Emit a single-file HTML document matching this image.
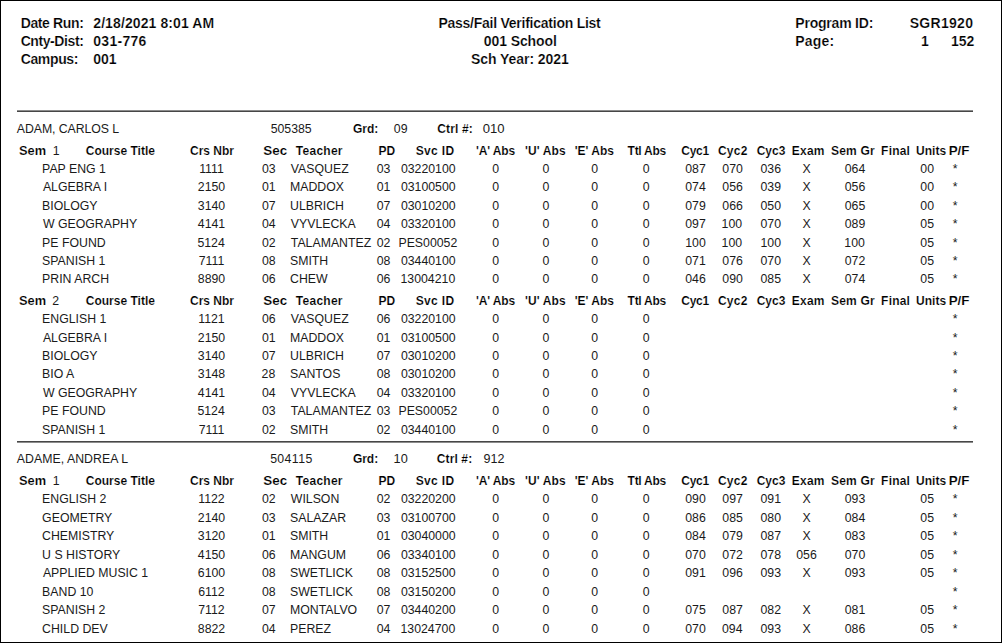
<!DOCTYPE html><html><head><meta charset="utf-8"><title>Pass/Fail Verification List</title><style>
html,body{margin:0;padding:0;background:#fff;}
body{width:1002px;height:643px;position:relative;overflow:hidden;}
#frame{position:absolute;left:0;top:0;width:1000px;height:641px;border:1px solid #000;}
.t{position:absolute;white-space:pre;}
.h{font:bold 14px/16px 'Liberation Sans', sans-serif;color:#000;-webkit-text-stroke:0.2px #fff;}
.b{font:bold 12px/14px 'Liberation Sans', sans-serif;color:#000;-webkit-text-stroke:0.15px #fff;}
.r{font:12.3px/14px 'Liberation Sans', sans-serif;color:#1a1a1a;}
.c{text-align:center;width:300px;}
.ln{position:absolute;background:#404040;}
</style></head><body><div id="frame"></div>
<div class="ln" style="left:17px;top:110px;width:956px;height:1px;background:#8c8c8c"></div>
<div class="ln" style="left:17px;top:111px;width:956px;height:1px;background:#474747"></div>
<div class="ln" style="left:17px;top:441px;width:956px;height:1px;background:#474747"></div>
<div class="ln" style="left:17px;top:442px;width:956px;height:1px;background:#8c8c8c"></div>
<div class="t h" style="left:20.68px;top:15.00px;letter-spacing:-0.370px">Date Run:</div>
<div class="t h" style="left:93.24px;top:15.00px;letter-spacing:0.105px">2/18/2021 8:01 AM</div>
<div class="t h" style="left:20.68px;top:33.00px;letter-spacing:-0.418px">Cnty-Dist:</div>
<div class="t h" style="left:93.24px;top:33.00px;letter-spacing:0.293px">031-776</div>
<div class="t h" style="left:20.68px;top:51.00px;letter-spacing:-0.360px">Campus:</div>
<div class="t h" style="left:93.24px;top:51.00px;font-size:14.02px">001</div>
<div class="t c h" style="left:369.48px;top:15.00px;letter-spacing:-0.249px">Pass/Fail Verification List</div>
<div class="t c h" style="left:370.28px;top:33.00px;letter-spacing:-0.107px">001 School</div>
<div class="t c h" style="left:369.88px;top:51.00px;letter-spacing:-0.049px">Sch Year: 2021</div>
<div class="t h" style="left:795.34px;top:15.00px;letter-spacing:-0.216px">Program ID:</div>
<div class="t h" style="left:909.68px;top:15.00px;letter-spacing:0.293px">SGR1920</div>
<div class="t h" style="left:795.34px;top:33.00px;letter-spacing:0.160px">Page:</div>
<div class="t h" style="left:921.12px;top:33.00px">1</div>
<div class="t h" style="left:951.00px;top:33.00px;font-size:14.01px">152</div>
<div class="t r" style="left:16.80px;top:122.00px;letter-spacing:-0.062px">ADAM, CARLOS L</div>
<div class="t r" style="left:270.68px;top:122.00px">505385</div>
<div class="t b" style="left:352.90px;top:122.00px">Grd:</div>
<div class="t r" style="left:393.80px;top:122.00px;font-size:12.33px">09</div>
<div class="t b" style="left:437.24px;top:122.00px;letter-spacing:0.133px">Ctrl #:</div>
<div class="t r" style="left:482.78px;top:122.00px;font-size:13.09px">010</div>
<div class="t b" style="left:19.00px;top:144.00px;font-size:12.81px">Sem</div>
<div class="t r" style="left:52.66px;top:144.00px">1</div>
<div class="t b" style="left:85.80px;top:144.00px">Course Title</div>
<div class="t b" style="left:190.02px;top:144.00px">Crs Nbr</div>
<div class="t b" style="left:263.34px;top:144.00px;font-size:13.41px">Sec</div>
<div class="t b" style="left:295.80px;top:144.00px;letter-spacing:0.267px">Teacher</div>
<div class="t b" style="left:378.62px;top:144.00px">PD</div>
<div class="t b" style="left:415.78px;top:144.00px;letter-spacing:0.320px">Svc ID</div>
<div class="t b" style="left:476.00px;top:144.00px;letter-spacing:-0.133px">&#x27;A&#x27; Abs</div>
<div class="t b" style="left:524.90px;top:144.00px;letter-spacing:0.133px">&#x27;U&#x27; Abs</div>
<div class="t b" style="left:574.68px;top:144.00px">&#x27;E&#x27; Abs</div>
<div class="t b" style="left:627.58px;top:144.00px;letter-spacing:-0.267px">Ttl Abs</div>
<div class="t b" style="left:681.24px;top:144.00px;letter-spacing:-0.267px">Cyc1</div>
<div class="t b" style="left:717.90px;top:144.00px;letter-spacing:0.267px">Cyc2</div>
<div class="t b" style="left:756.68px;top:144.00px">Cyc3</div>
<div class="t b" style="left:791.68px;top:144.00px;letter-spacing:0.267px">Exam</div>
<div class="t b" style="left:831.12px;top:144.00px;letter-spacing:0.160px">Sem Gr</div>
<div class="t b" style="left:881.12px;top:144.00px;letter-spacing:0.200px">Final</div>
<div class="t b" style="left:916.12px;top:144.00px">Units</div>
<div class="t b" style="left:948.66px;top:144.00px;font-size:13.38px">P/F</div>
<div class="t r" style="left:42.12px;top:162.00px">PAP ENG 1</div>
<div class="t c r" style="left:61.50px;top:162.00px">1111</div>
<div class="t c r" style="left:118.84px;top:162.00px">03</div>
<div class="t r" style="left:290.80px;top:162.00px">VASQUEZ</div>
<div class="t c r" style="left:233.50px;top:162.00px">03</div>
<div class="t c r" style="left:278.28px;top:162.00px">03220100</div>
<div class="t c r" style="left:345.68px;top:162.00px">0</div>
<div class="t c r" style="left:395.90px;top:162.00px">0</div>
<div class="t c r" style="left:444.56px;top:162.00px">0</div>
<div class="t c r" style="left:496.12px;top:162.00px">0</div>
<div class="t c r" style="left:545.50px;top:162.00px">087</div>
<div class="t c r" style="left:582.62px;top:162.00px">070</div>
<div class="t c r" style="left:620.72px;top:162.00px">036</div>
<div class="t c r" style="left:656.50px;top:162.00px">X</div>
<div class="t c r" style="left:705.00px;top:162.00px">064</div>
<div class="t c r" style="left:777.16px;top:162.00px">00</div>
<div class="t c r" style="left:805.22px;top:162.00px">*</div>
<div class="t r" style="left:42.92px;top:180.00px">ALGEBRA I</div>
<div class="t c r" style="left:61.50px;top:180.00px">2150</div>
<div class="t c r" style="left:118.84px;top:180.00px">01</div>
<div class="t r" style="left:290.00px;top:180.00px">MADDOX</div>
<div class="t c r" style="left:233.50px;top:180.00px">01</div>
<div class="t c r" style="left:278.28px;top:180.00px">03100500</div>
<div class="t c r" style="left:345.68px;top:180.00px">0</div>
<div class="t c r" style="left:395.90px;top:180.00px">0</div>
<div class="t c r" style="left:444.56px;top:180.00px">0</div>
<div class="t c r" style="left:496.12px;top:180.00px">0</div>
<div class="t c r" style="left:545.50px;top:180.00px">074</div>
<div class="t c r" style="left:582.62px;top:180.00px">056</div>
<div class="t c r" style="left:620.72px;top:180.00px">039</div>
<div class="t c r" style="left:656.50px;top:180.00px">X</div>
<div class="t c r" style="left:705.00px;top:180.00px">056</div>
<div class="t c r" style="left:777.16px;top:180.00px">00</div>
<div class="t c r" style="left:805.22px;top:180.00px">*</div>
<div class="t r" style="left:42.12px;top:199.00px">BIOLOGY</div>
<div class="t c r" style="left:61.50px;top:199.00px">3140</div>
<div class="t c r" style="left:118.84px;top:199.00px">07</div>
<div class="t r" style="left:290.00px;top:199.00px">ULBRICH</div>
<div class="t c r" style="left:233.50px;top:199.00px">07</div>
<div class="t c r" style="left:278.28px;top:199.00px">03010200</div>
<div class="t c r" style="left:345.68px;top:199.00px">0</div>
<div class="t c r" style="left:395.90px;top:199.00px">0</div>
<div class="t c r" style="left:444.56px;top:199.00px">0</div>
<div class="t c r" style="left:496.12px;top:199.00px">0</div>
<div class="t c r" style="left:545.50px;top:199.00px">079</div>
<div class="t c r" style="left:582.62px;top:199.00px">066</div>
<div class="t c r" style="left:620.72px;top:199.00px">050</div>
<div class="t c r" style="left:656.50px;top:199.00px">X</div>
<div class="t c r" style="left:705.00px;top:199.00px">065</div>
<div class="t c r" style="left:777.16px;top:199.00px">00</div>
<div class="t c r" style="left:805.22px;top:199.00px">*</div>
<div class="t r" style="left:42.92px;top:217.00px">W GEOGRAPHY</div>
<div class="t c r" style="left:61.50px;top:217.00px">4141</div>
<div class="t c r" style="left:118.84px;top:217.00px">04</div>
<div class="t r" style="left:290.80px;top:217.00px">VYVLECKA</div>
<div class="t c r" style="left:233.50px;top:217.00px">04</div>
<div class="t c r" style="left:278.28px;top:217.00px">03320100</div>
<div class="t c r" style="left:345.68px;top:217.00px">0</div>
<div class="t c r" style="left:395.90px;top:217.00px">0</div>
<div class="t c r" style="left:444.56px;top:217.00px">0</div>
<div class="t c r" style="left:496.12px;top:217.00px">0</div>
<div class="t c r" style="left:545.50px;top:217.00px">097</div>
<div class="t c r" style="left:581.82px;top:217.00px">100</div>
<div class="t c r" style="left:620.72px;top:217.00px">070</div>
<div class="t c r" style="left:656.50px;top:217.00px">X</div>
<div class="t c r" style="left:705.00px;top:217.00px">089</div>
<div class="t c r" style="left:777.16px;top:217.00px">05</div>
<div class="t c r" style="left:805.22px;top:217.00px">*</div>
<div class="t r" style="left:42.12px;top:236.00px">PE FOUND</div>
<div class="t c r" style="left:61.10px;top:236.00px">5124</div>
<div class="t c r" style="left:118.84px;top:236.00px">02</div>
<div class="t r" style="left:290.80px;top:236.00px">TALAMANTEZ</div>
<div class="t c r" style="left:233.50px;top:236.00px">02</div>
<div class="t c r" style="left:277.88px;top:236.00px">PES00052</div>
<div class="t c r" style="left:345.68px;top:236.00px">0</div>
<div class="t c r" style="left:395.90px;top:236.00px">0</div>
<div class="t c r" style="left:444.56px;top:236.00px">0</div>
<div class="t c r" style="left:496.12px;top:236.00px">0</div>
<div class="t c r" style="left:545.50px;top:236.00px">100</div>
<div class="t c r" style="left:581.82px;top:236.00px">100</div>
<div class="t c r" style="left:620.72px;top:236.00px">100</div>
<div class="t c r" style="left:656.50px;top:236.00px">X</div>
<div class="t c r" style="left:704.60px;top:236.00px">100</div>
<div class="t c r" style="left:777.16px;top:236.00px">05</div>
<div class="t c r" style="left:805.22px;top:236.00px">*</div>
<div class="t r" style="left:42.12px;top:254.00px">SPANISH 1</div>
<div class="t c r" style="left:61.50px;top:254.00px">7111</div>
<div class="t c r" style="left:118.84px;top:254.00px">08</div>
<div class="t r" style="left:290.00px;top:254.00px">SMITH</div>
<div class="t c r" style="left:233.50px;top:254.00px">08</div>
<div class="t c r" style="left:278.28px;top:254.00px">03440100</div>
<div class="t c r" style="left:345.68px;top:254.00px">0</div>
<div class="t c r" style="left:395.90px;top:254.00px">0</div>
<div class="t c r" style="left:444.56px;top:254.00px">0</div>
<div class="t c r" style="left:496.12px;top:254.00px">0</div>
<div class="t c r" style="left:545.50px;top:254.00px">071</div>
<div class="t c r" style="left:582.62px;top:254.00px">076</div>
<div class="t c r" style="left:620.72px;top:254.00px">070</div>
<div class="t c r" style="left:656.50px;top:254.00px">X</div>
<div class="t c r" style="left:705.00px;top:254.00px">072</div>
<div class="t c r" style="left:777.16px;top:254.00px">05</div>
<div class="t c r" style="left:805.22px;top:254.00px">*</div>
<div class="t r" style="left:42.12px;top:272.00px">PRIN ARCH</div>
<div class="t c r" style="left:61.50px;top:272.00px">8890</div>
<div class="t c r" style="left:118.84px;top:272.00px">06</div>
<div class="t r" style="left:290.00px;top:272.00px">CHEW</div>
<div class="t c r" style="left:233.50px;top:272.00px">06</div>
<div class="t c r" style="left:277.88px;top:272.00px">13004210</div>
<div class="t c r" style="left:345.68px;top:272.00px">0</div>
<div class="t c r" style="left:395.90px;top:272.00px">0</div>
<div class="t c r" style="left:444.56px;top:272.00px">0</div>
<div class="t c r" style="left:496.12px;top:272.00px">0</div>
<div class="t c r" style="left:545.50px;top:272.00px">046</div>
<div class="t c r" style="left:582.62px;top:272.00px">090</div>
<div class="t c r" style="left:620.72px;top:272.00px">085</div>
<div class="t c r" style="left:656.50px;top:272.00px">X</div>
<div class="t c r" style="left:705.00px;top:272.00px">074</div>
<div class="t c r" style="left:777.16px;top:272.00px">05</div>
<div class="t c r" style="left:805.22px;top:272.00px">*</div>
<div class="t b" style="left:19.00px;top:294.00px;font-size:12.81px">Sem</div>
<div class="t r" style="left:52.16px;top:294.00px">2</div>
<div class="t b" style="left:85.80px;top:294.00px">Course Title</div>
<div class="t b" style="left:190.02px;top:294.00px">Crs Nbr</div>
<div class="t b" style="left:263.34px;top:294.00px;font-size:13.41px">Sec</div>
<div class="t b" style="left:295.80px;top:294.00px;letter-spacing:0.267px">Teacher</div>
<div class="t b" style="left:378.62px;top:294.00px">PD</div>
<div class="t b" style="left:415.78px;top:294.00px;letter-spacing:0.320px">Svc ID</div>
<div class="t b" style="left:476.00px;top:294.00px;letter-spacing:-0.133px">&#x27;A&#x27; Abs</div>
<div class="t b" style="left:524.90px;top:294.00px;letter-spacing:0.133px">&#x27;U&#x27; Abs</div>
<div class="t b" style="left:574.68px;top:294.00px">&#x27;E&#x27; Abs</div>
<div class="t b" style="left:627.58px;top:294.00px;letter-spacing:-0.267px">Ttl Abs</div>
<div class="t b" style="left:681.24px;top:294.00px;letter-spacing:-0.267px">Cyc1</div>
<div class="t b" style="left:717.90px;top:294.00px;letter-spacing:0.267px">Cyc2</div>
<div class="t b" style="left:756.68px;top:294.00px">Cyc3</div>
<div class="t b" style="left:791.68px;top:294.00px;letter-spacing:0.267px">Exam</div>
<div class="t b" style="left:831.12px;top:294.00px;letter-spacing:0.160px">Sem Gr</div>
<div class="t b" style="left:881.12px;top:294.00px;letter-spacing:0.200px">Final</div>
<div class="t b" style="left:916.12px;top:294.00px">Units</div>
<div class="t b" style="left:948.66px;top:294.00px;font-size:13.38px">P/F</div>
<div class="t r" style="left:42.12px;top:312.00px">ENGLISH 1</div>
<div class="t c r" style="left:61.50px;top:312.00px">1121</div>
<div class="t c r" style="left:118.84px;top:312.00px">06</div>
<div class="t r" style="left:290.80px;top:312.00px">VASQUEZ</div>
<div class="t c r" style="left:233.50px;top:312.00px">06</div>
<div class="t c r" style="left:278.28px;top:312.00px">03220100</div>
<div class="t c r" style="left:345.68px;top:312.00px">0</div>
<div class="t c r" style="left:395.90px;top:312.00px">0</div>
<div class="t c r" style="left:444.56px;top:312.00px">0</div>
<div class="t c r" style="left:496.12px;top:312.00px">0</div>
<div class="t c r" style="left:805.22px;top:312.00px">*</div>
<div class="t r" style="left:42.92px;top:331.00px">ALGEBRA I</div>
<div class="t c r" style="left:61.50px;top:331.00px">2150</div>
<div class="t c r" style="left:118.84px;top:331.00px">01</div>
<div class="t r" style="left:290.00px;top:331.00px">MADDOX</div>
<div class="t c r" style="left:233.50px;top:331.00px">01</div>
<div class="t c r" style="left:278.28px;top:331.00px">03100500</div>
<div class="t c r" style="left:345.68px;top:331.00px">0</div>
<div class="t c r" style="left:395.90px;top:331.00px">0</div>
<div class="t c r" style="left:444.56px;top:331.00px">0</div>
<div class="t c r" style="left:496.12px;top:331.00px">0</div>
<div class="t c r" style="left:805.22px;top:331.00px">*</div>
<div class="t r" style="left:42.12px;top:349.00px">BIOLOGY</div>
<div class="t c r" style="left:61.50px;top:349.00px">3140</div>
<div class="t c r" style="left:118.84px;top:349.00px">07</div>
<div class="t r" style="left:290.00px;top:349.00px">ULBRICH</div>
<div class="t c r" style="left:233.50px;top:349.00px">07</div>
<div class="t c r" style="left:278.28px;top:349.00px">03010200</div>
<div class="t c r" style="left:345.68px;top:349.00px">0</div>
<div class="t c r" style="left:395.90px;top:349.00px">0</div>
<div class="t c r" style="left:444.56px;top:349.00px">0</div>
<div class="t c r" style="left:496.12px;top:349.00px">0</div>
<div class="t c r" style="left:805.22px;top:349.00px">*</div>
<div class="t r" style="left:42.12px;top:367.00px">BIO A</div>
<div class="t c r" style="left:61.50px;top:367.00px">3148</div>
<div class="t c r" style="left:118.44px;top:367.00px">28</div>
<div class="t r" style="left:290.00px;top:367.00px">SANTOS</div>
<div class="t c r" style="left:233.50px;top:367.00px">08</div>
<div class="t c r" style="left:278.28px;top:367.00px">03010200</div>
<div class="t c r" style="left:345.68px;top:367.00px">0</div>
<div class="t c r" style="left:395.90px;top:367.00px">0</div>
<div class="t c r" style="left:444.56px;top:367.00px">0</div>
<div class="t c r" style="left:496.12px;top:367.00px">0</div>
<div class="t c r" style="left:805.22px;top:367.00px">*</div>
<div class="t r" style="left:42.92px;top:386.00px">W GEOGRAPHY</div>
<div class="t c r" style="left:61.50px;top:386.00px">4141</div>
<div class="t c r" style="left:118.84px;top:386.00px">04</div>
<div class="t r" style="left:290.80px;top:386.00px">VYVLECKA</div>
<div class="t c r" style="left:233.50px;top:386.00px">04</div>
<div class="t c r" style="left:278.28px;top:386.00px">03320100</div>
<div class="t c r" style="left:345.68px;top:386.00px">0</div>
<div class="t c r" style="left:395.90px;top:386.00px">0</div>
<div class="t c r" style="left:444.56px;top:386.00px">0</div>
<div class="t c r" style="left:496.12px;top:386.00px">0</div>
<div class="t c r" style="left:805.22px;top:386.00px">*</div>
<div class="t r" style="left:42.12px;top:404.00px">PE FOUND</div>
<div class="t c r" style="left:61.10px;top:404.00px">5124</div>
<div class="t c r" style="left:118.84px;top:404.00px">03</div>
<div class="t r" style="left:290.80px;top:404.00px">TALAMANTEZ</div>
<div class="t c r" style="left:233.50px;top:404.00px">03</div>
<div class="t c r" style="left:277.88px;top:404.00px">PES00052</div>
<div class="t c r" style="left:345.68px;top:404.00px">0</div>
<div class="t c r" style="left:395.90px;top:404.00px">0</div>
<div class="t c r" style="left:444.56px;top:404.00px">0</div>
<div class="t c r" style="left:496.12px;top:404.00px">0</div>
<div class="t c r" style="left:805.22px;top:404.00px">*</div>
<div class="t r" style="left:42.12px;top:423.00px">SPANISH 1</div>
<div class="t c r" style="left:61.50px;top:423.00px">7111</div>
<div class="t c r" style="left:118.84px;top:423.00px">02</div>
<div class="t r" style="left:290.00px;top:423.00px">SMITH</div>
<div class="t c r" style="left:233.50px;top:423.00px">02</div>
<div class="t c r" style="left:278.28px;top:423.00px">03440100</div>
<div class="t c r" style="left:345.68px;top:423.00px">0</div>
<div class="t c r" style="left:395.90px;top:423.00px">0</div>
<div class="t c r" style="left:444.56px;top:423.00px">0</div>
<div class="t c r" style="left:496.12px;top:423.00px">0</div>
<div class="t c r" style="left:805.22px;top:423.00px">*</div>
<div class="t r" style="left:16.80px;top:452.00px;letter-spacing:0.034px">ADAME, ANDREA L</div>
<div class="t r" style="left:270.14px;top:452.00px;letter-spacing:0.400px">504115</div>
<div class="t b" style="left:352.90px;top:452.00px;letter-spacing:-0.027px">Grd:</div>
<div class="t r" style="left:393.62px;top:452.00px;font-size:12.74px">10</div>
<div class="t b" style="left:436.76px;top:452.00px;letter-spacing:0.120px">Ctrl #:</div>
<div class="t r" style="left:483.52px;top:452.00px;font-size:12.57px">912</div>
<div class="t b" style="left:19.00px;top:474.00px;font-size:12.81px">Sem</div>
<div class="t r" style="left:52.66px;top:474.00px">1</div>
<div class="t b" style="left:85.80px;top:474.00px">Course Title</div>
<div class="t b" style="left:190.02px;top:474.00px">Crs Nbr</div>
<div class="t b" style="left:263.34px;top:474.00px;font-size:13.41px">Sec</div>
<div class="t b" style="left:295.80px;top:474.00px;letter-spacing:0.267px">Teacher</div>
<div class="t b" style="left:378.62px;top:474.00px">PD</div>
<div class="t b" style="left:415.78px;top:474.00px;letter-spacing:0.320px">Svc ID</div>
<div class="t b" style="left:476.00px;top:474.00px;letter-spacing:-0.133px">&#x27;A&#x27; Abs</div>
<div class="t b" style="left:524.90px;top:474.00px;letter-spacing:0.133px">&#x27;U&#x27; Abs</div>
<div class="t b" style="left:574.68px;top:474.00px">&#x27;E&#x27; Abs</div>
<div class="t b" style="left:627.58px;top:474.00px;letter-spacing:-0.267px">Ttl Abs</div>
<div class="t b" style="left:681.24px;top:474.00px;letter-spacing:-0.267px">Cyc1</div>
<div class="t b" style="left:717.90px;top:474.00px;letter-spacing:0.267px">Cyc2</div>
<div class="t b" style="left:756.68px;top:474.00px">Cyc3</div>
<div class="t b" style="left:791.68px;top:474.00px;letter-spacing:0.267px">Exam</div>
<div class="t b" style="left:831.12px;top:474.00px;letter-spacing:0.160px">Sem Gr</div>
<div class="t b" style="left:881.12px;top:474.00px;letter-spacing:0.200px">Final</div>
<div class="t b" style="left:916.12px;top:474.00px">Units</div>
<div class="t b" style="left:948.66px;top:474.00px;font-size:13.38px">P/F</div>
<div class="t r" style="left:42.12px;top:492.00px">ENGLISH 2</div>
<div class="t c r" style="left:61.50px;top:492.00px">1122</div>
<div class="t c r" style="left:118.84px;top:492.00px">02</div>
<div class="t r" style="left:290.80px;top:492.00px">WILSON</div>
<div class="t c r" style="left:233.50px;top:492.00px">02</div>
<div class="t c r" style="left:278.28px;top:492.00px">03220200</div>
<div class="t c r" style="left:345.68px;top:492.00px">0</div>
<div class="t c r" style="left:395.90px;top:492.00px">0</div>
<div class="t c r" style="left:444.56px;top:492.00px">0</div>
<div class="t c r" style="left:496.12px;top:492.00px">0</div>
<div class="t c r" style="left:545.50px;top:492.00px">090</div>
<div class="t c r" style="left:582.62px;top:492.00px">097</div>
<div class="t c r" style="left:620.72px;top:492.00px">091</div>
<div class="t c r" style="left:656.50px;top:492.00px">X</div>
<div class="t c r" style="left:705.00px;top:492.00px">093</div>
<div class="t c r" style="left:777.16px;top:492.00px">05</div>
<div class="t c r" style="left:805.22px;top:492.00px">*</div>
<div class="t r" style="left:42.12px;top:511.00px">GEOMETRY</div>
<div class="t c r" style="left:61.50px;top:511.00px">2140</div>
<div class="t c r" style="left:118.84px;top:511.00px">03</div>
<div class="t r" style="left:290.00px;top:511.00px">SALAZAR</div>
<div class="t c r" style="left:233.50px;top:511.00px">03</div>
<div class="t c r" style="left:278.28px;top:511.00px">03100700</div>
<div class="t c r" style="left:345.68px;top:511.00px">0</div>
<div class="t c r" style="left:395.90px;top:511.00px">0</div>
<div class="t c r" style="left:444.56px;top:511.00px">0</div>
<div class="t c r" style="left:496.12px;top:511.00px">0</div>
<div class="t c r" style="left:545.50px;top:511.00px">086</div>
<div class="t c r" style="left:582.62px;top:511.00px">085</div>
<div class="t c r" style="left:620.72px;top:511.00px">080</div>
<div class="t c r" style="left:656.50px;top:511.00px">X</div>
<div class="t c r" style="left:705.00px;top:511.00px">084</div>
<div class="t c r" style="left:777.16px;top:511.00px">05</div>
<div class="t c r" style="left:805.22px;top:511.00px">*</div>
<div class="t r" style="left:42.12px;top:529.00px">CHEMISTRY</div>
<div class="t c r" style="left:61.50px;top:529.00px">3120</div>
<div class="t c r" style="left:118.84px;top:529.00px">01</div>
<div class="t r" style="left:290.00px;top:529.00px">SMITH</div>
<div class="t c r" style="left:233.50px;top:529.00px">01</div>
<div class="t c r" style="left:278.28px;top:529.00px">03040000</div>
<div class="t c r" style="left:345.68px;top:529.00px">0</div>
<div class="t c r" style="left:395.90px;top:529.00px">0</div>
<div class="t c r" style="left:444.56px;top:529.00px">0</div>
<div class="t c r" style="left:496.12px;top:529.00px">0</div>
<div class="t c r" style="left:545.50px;top:529.00px">084</div>
<div class="t c r" style="left:582.62px;top:529.00px">079</div>
<div class="t c r" style="left:620.72px;top:529.00px">087</div>
<div class="t c r" style="left:656.50px;top:529.00px">X</div>
<div class="t c r" style="left:705.00px;top:529.00px">083</div>
<div class="t c r" style="left:777.16px;top:529.00px">05</div>
<div class="t c r" style="left:805.22px;top:529.00px">*</div>
<div class="t r" style="left:42.12px;top:548.00px">U S HISTORY</div>
<div class="t c r" style="left:61.50px;top:548.00px">4150</div>
<div class="t c r" style="left:118.84px;top:548.00px">06</div>
<div class="t r" style="left:290.00px;top:548.00px">MANGUM</div>
<div class="t c r" style="left:233.50px;top:548.00px">06</div>
<div class="t c r" style="left:278.28px;top:548.00px">03340100</div>
<div class="t c r" style="left:345.68px;top:548.00px">0</div>
<div class="t c r" style="left:395.90px;top:548.00px">0</div>
<div class="t c r" style="left:444.56px;top:548.00px">0</div>
<div class="t c r" style="left:496.12px;top:548.00px">0</div>
<div class="t c r" style="left:545.50px;top:548.00px">070</div>
<div class="t c r" style="left:582.62px;top:548.00px">072</div>
<div class="t c r" style="left:620.72px;top:548.00px">078</div>
<div class="t c r" style="left:656.50px;top:548.00px">056</div>
<div class="t c r" style="left:705.00px;top:548.00px">070</div>
<div class="t c r" style="left:777.16px;top:548.00px">05</div>
<div class="t c r" style="left:805.22px;top:548.00px">*</div>
<div class="t r" style="left:42.92px;top:566.00px">APPLIED MUSIC 1</div>
<div class="t c r" style="left:61.50px;top:566.00px">6100</div>
<div class="t c r" style="left:118.84px;top:566.00px">08</div>
<div class="t r" style="left:290.00px;top:566.00px">SWETLICK</div>
<div class="t c r" style="left:233.50px;top:566.00px">08</div>
<div class="t c r" style="left:278.28px;top:566.00px">03152500</div>
<div class="t c r" style="left:345.68px;top:566.00px">0</div>
<div class="t c r" style="left:395.90px;top:566.00px">0</div>
<div class="t c r" style="left:444.56px;top:566.00px">0</div>
<div class="t c r" style="left:496.12px;top:566.00px">0</div>
<div class="t c r" style="left:545.50px;top:566.00px">091</div>
<div class="t c r" style="left:582.62px;top:566.00px">096</div>
<div class="t c r" style="left:620.72px;top:566.00px">093</div>
<div class="t c r" style="left:656.50px;top:566.00px">X</div>
<div class="t c r" style="left:705.00px;top:566.00px">093</div>
<div class="t c r" style="left:777.16px;top:566.00px">05</div>
<div class="t c r" style="left:805.22px;top:566.00px">*</div>
<div class="t r" style="left:42.12px;top:585.00px">BAND 10</div>
<div class="t c r" style="left:61.50px;top:585.00px">6112</div>
<div class="t c r" style="left:118.84px;top:585.00px">08</div>
<div class="t r" style="left:290.00px;top:585.00px">SWETLICK</div>
<div class="t c r" style="left:233.50px;top:585.00px">08</div>
<div class="t c r" style="left:278.28px;top:585.00px">03150200</div>
<div class="t c r" style="left:345.68px;top:585.00px">0</div>
<div class="t c r" style="left:395.90px;top:585.00px">0</div>
<div class="t c r" style="left:444.56px;top:585.00px">0</div>
<div class="t c r" style="left:496.12px;top:585.00px">0</div>
<div class="t c r" style="left:805.22px;top:585.00px">*</div>
<div class="t r" style="left:42.12px;top:603.00px">SPANISH 2</div>
<div class="t c r" style="left:61.50px;top:603.00px">7112</div>
<div class="t c r" style="left:118.84px;top:603.00px">07</div>
<div class="t r" style="left:290.00px;top:603.00px">MONTALVO</div>
<div class="t c r" style="left:233.50px;top:603.00px">07</div>
<div class="t c r" style="left:278.28px;top:603.00px">03440200</div>
<div class="t c r" style="left:345.68px;top:603.00px">0</div>
<div class="t c r" style="left:395.90px;top:603.00px">0</div>
<div class="t c r" style="left:444.56px;top:603.00px">0</div>
<div class="t c r" style="left:496.12px;top:603.00px">0</div>
<div class="t c r" style="left:545.50px;top:603.00px">075</div>
<div class="t c r" style="left:582.62px;top:603.00px">087</div>
<div class="t c r" style="left:620.72px;top:603.00px">082</div>
<div class="t c r" style="left:656.50px;top:603.00px">X</div>
<div class="t c r" style="left:705.00px;top:603.00px">081</div>
<div class="t c r" style="left:777.16px;top:603.00px">05</div>
<div class="t c r" style="left:805.22px;top:603.00px">*</div>
<div class="t r" style="left:42.12px;top:622.00px">CHILD DEV</div>
<div class="t c r" style="left:61.50px;top:622.00px">8822</div>
<div class="t c r" style="left:118.84px;top:622.00px">04</div>
<div class="t r" style="left:290.00px;top:622.00px">PEREZ</div>
<div class="t c r" style="left:233.50px;top:622.00px">04</div>
<div class="t c r" style="left:277.88px;top:622.00px">13024700</div>
<div class="t c r" style="left:345.68px;top:622.00px">0</div>
<div class="t c r" style="left:395.90px;top:622.00px">0</div>
<div class="t c r" style="left:444.56px;top:622.00px">0</div>
<div class="t c r" style="left:496.12px;top:622.00px">0</div>
<div class="t c r" style="left:545.50px;top:622.00px">070</div>
<div class="t c r" style="left:582.22px;top:622.00px">094</div>
<div class="t c r" style="left:620.72px;top:622.00px">093</div>
<div class="t c r" style="left:656.50px;top:622.00px">X</div>
<div class="t c r" style="left:705.00px;top:622.00px">086</div>
<div class="t c r" style="left:777.16px;top:622.00px">05</div>
<div class="t c r" style="left:805.22px;top:622.00px">*</div>
</body></html>
